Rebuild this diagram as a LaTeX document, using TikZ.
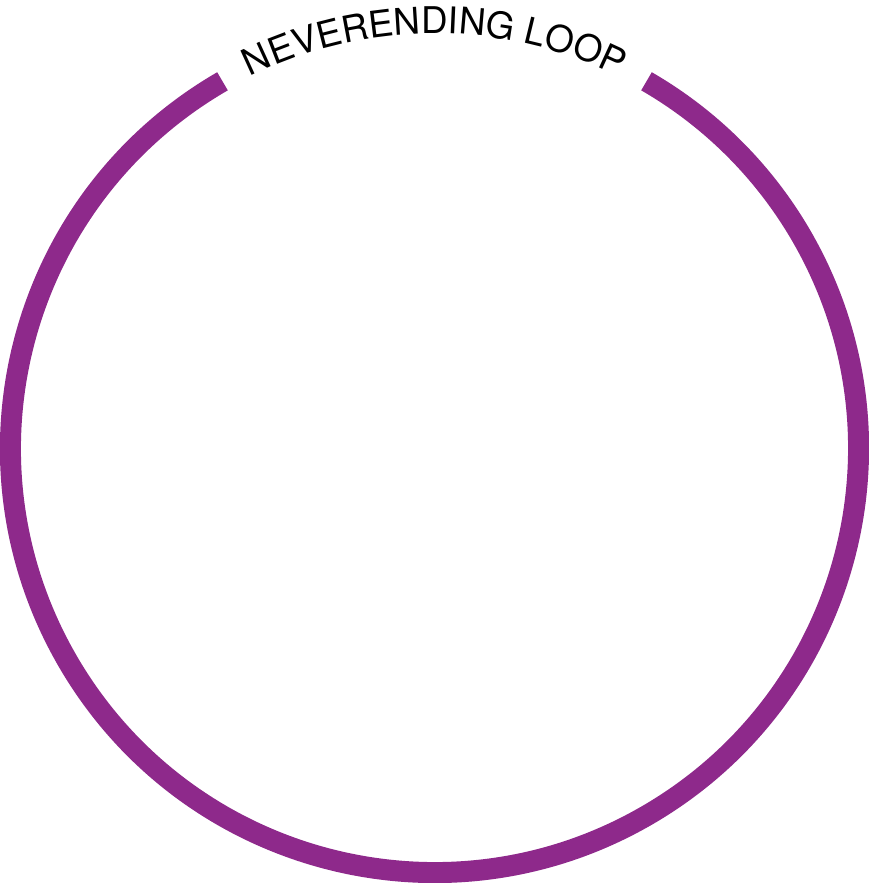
\documentclass[tikz,border=0pt]{standalone}
\usepackage{fontspec}
\newfontfamily\loopfont{TeX Gyre Heros}
\usetikzlibrary{decorations.text}
\definecolor{loopviolet}{RGB}{142,41,139}
\tikzset{
  ring/.style={draw=loopviolet, line width=21pt, line cap=butt},
  ringlabel/.style={decorate, decoration={text along path, text align=center,
     text={|\loopfont\fontsize{36.8pt}{40pt}\selectfont|NEVERENDING LOOP}}}
}
\begin{document}
\begin{tikzpicture}
\useasboundingbox (-434.5pt,-434.5pt) rectangle (434.5pt,448.5pt);
\coordinate (c) at (0,0);
\draw[ring] ([shift={(120:424pt)}]c) arc[start angle=120, end angle=420, radius=424pt];
\path[ringlabel] ([shift={(180:415pt)}]c) arc[start angle=180, end angle=0, radius=415pt];
\end{tikzpicture}
\end{document}
